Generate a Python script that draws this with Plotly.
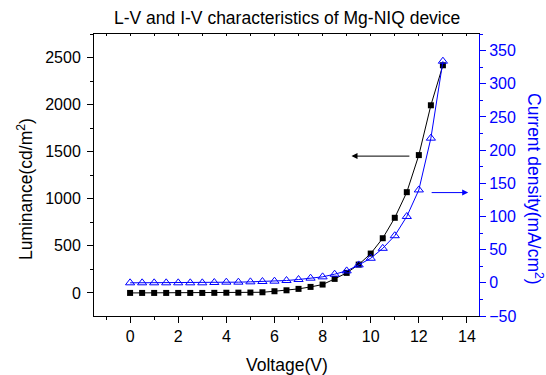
import plotly.graph_objects as go

voltage = [0, 0.5, 1, 1.5, 2, 2.5, 3, 3.5, 4, 4.5, 5, 5.5, 6, 6.5, 7, 7.5, 8, 8.5, 9, 9.5, 10, 10.5, 11, 11.5, 12, 12.5, 13]
luminance = [0, 0, 0, 0, 0, 0, 0, 1, 2, 3, 4, 7, 18, 28, 43, 64, 89, 149, 213, 301, 418, 581, 798, 1070, 1464, 1993, 2418]
current_density = [0, 0, 0, 0, 0, 0, 0, 0.5, 1, 1, 1.5, 2, 2.5, 3.5, 5, 7, 9, 13, 18, 27, 37, 52, 71, 100, 140, 218, 334]

title_text = "L-V and I-V characteristics of Mg-NIQ device"
x_title = "Voltage(V)"
y1_title = "Luminance(cd/m<sup>2</sup>)"
y2_title = "Current density(mA/cm<sup>2</sup>)"

BLUE = "#0000FF"
FONT = "Liberation Sans, Arial, sans-serif"
FS = 16
TFS = 17.5

fig = go.Figure()
fig.add_trace(go.Scatter(
    x=voltage, y=luminance, mode="lines+markers",
    line=dict(color="black", width=1),
    marker=dict(symbol="square", size=6, color="black"),
    yaxis="y", xaxis="x", showlegend=False))
fig.add_trace(go.Scatter(
    x=voltage, y=current_density, mode="lines+markers",
    line=dict(color=BLUE, width=1),
    marker=dict(symbol="triangle-up-open", size=8, color=BLUE, line=dict(width=1)),
    yaxis="y2", xaxis="x", showlegend=False))
# empty trace to carry the top frame axis
fig.add_trace(go.Scatter(x=[None], y=[None], xaxis="x2", yaxis="y", showlegend=False))

fig.update_layout(
    width=546, height=375,
    margin=dict(l=94, r=67, t=34, b=59),
    plot_bgcolor="white", paper_bgcolor="white",
    font=dict(family=FONT, size=FS, color="black"),
    xaxis=dict(
        range=[-1.5, 14.5], dtick=2, tick0=0,
        ticks="outside", ticklen=6, tickwidth=1, tickcolor="black",
        minor=dict(dtick=1, ticks="outside", ticklen=3, tickcolor="black"),
        showline=True, linecolor="black", linewidth=1,
        showgrid=False, zeroline=False,
        tickfont=dict(size=FS),
    ),
    xaxis2=dict(
        range=[-1.5, 14.5], overlaying="x", side="top", anchor="y",
        dtick=1, tick0=0, ticks="inside", ticklen=2, tickcolor="black",
        showticklabels=False, showline=True, linecolor="black", linewidth=1,
        showgrid=False, zeroline=False,
    ),
    yaxis=dict(
        range=[-245, 2750], dtick=500, tick0=0,
        ticks="outside", ticklen=6, tickwidth=1, tickcolor="black",
        minor=dict(dtick=250, ticks="outside", ticklen=3, tickcolor="black"),
        showline=True, linecolor="black", linewidth=1,
        showgrid=False, zeroline=False,
        tickfont=dict(size=FS), ticklabelstandoff=3,
    ),
    yaxis2=dict(
        range=[-50, 375], dtick=50, tick0=0, overlaying="y", side="right",
        ticks="outside", ticklen=6, tickwidth=1, tickcolor=BLUE,
        minor=dict(dtick=25, ticks="outside", ticklen=3, tickcolor=BLUE),
        showline=True, linecolor=BLUE, linewidth=1,
        showgrid=False, zeroline=False,
        tickfont=dict(size=FS, color=BLUE),
    ),
)

fig.add_annotation(text=title_text, xref="paper", yref="paper", x=0.5, y=1, yshift=4,
                   xanchor="center", yanchor="bottom", showarrow=False,
                   font=dict(size=TFS, color="black"))
fig.add_annotation(text=x_title, xref="paper", yref="paper", x=0.5, y=0, yshift=-37,
                   xanchor="center", yanchor="top", showarrow=False,
                   font=dict(size=TFS, color="black"))
fig.add_annotation(text=y1_title, xref="paper", yref="paper", x=0, xshift=-69, y=0.45,
                   xanchor="center", yanchor="middle", textangle=-90, showarrow=False,
                   font=dict(size=TFS, color="black"))
fig.add_annotation(text=y2_title, xref="paper", yref="paper", x=1, xshift=56, y=0.45,
                   xanchor="center", yanchor="middle", textangle=90, showarrow=False,
                   font=dict(size=TFS, color=BLUE))

# arrows pointing to the respective axes
fig.add_annotation(x=9.2, y=1453, ax=11.67, ay=1453, xref="x", yref="y", axref="x", ayref="y",
                   showarrow=True, arrowhead=2, arrowsize=1.2, arrowwidth=1, arrowcolor="black", text="")
fig.add_annotation(x=14.05, y=136, ax=12.47, ay=136, xref="x", yref="y2", axref="x", ayref="y2",
                   showarrow=True, arrowhead=2, arrowsize=1.2, arrowwidth=1, arrowcolor=BLUE, text="")

fig.write_html("out.html")
